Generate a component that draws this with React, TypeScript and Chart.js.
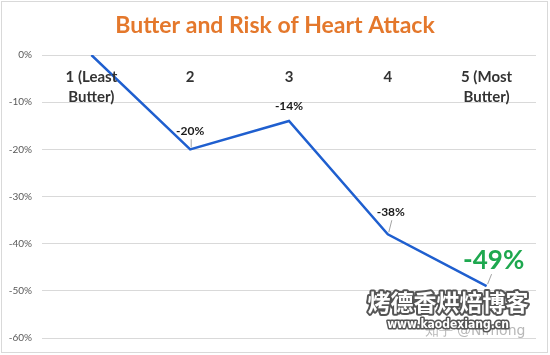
import React, { useEffect, useRef } from "react";
import { Chart, registerables } from "chart.js";

Chart.register(...registerables);

const categories: (string | string[])[] = [
  ["1 (Least", "Butter)"],
  "2",
  "3",
  "4",
  ["5 (Most", "Butter)"],
];
const riskChange: number[] = [0, -0.2, -0.14, -0.38, -0.49];
const labelShown: boolean[] = [false, true, true, true, true];
const titleText = "Butter and Risk of Heart Attack";
const watermarkMain = "烤德香烘焙博客";
const watermarkUrl = "www.kaodexiang.cn";
const watermarkZhihu = "知乎 @Nimong";

// label placement styling (offsets from the point, in px)
const labelStyle = [
  null,
  { dx: 0, dy: -18, leader: true, big: false },
  { dx: 0, dy: -15, leader: false, big: false },
  { dx: 3, dy: -22, leader: true, big: false },
  { dx: 7, dy: -26, leader: true, big: true },
];

const pct = (v: number) => `${Math.round(v * 100)}%`;

export default function App() {
  const ref = useRef<HTMLCanvasElement>(null);
  useEffect(() => {
    document.body.style.margin = "0";
    const canvas = ref.current!;
    const framePlugin = {
      id: "frame",
      beforeDraw(chart: any) {
        const { ctx, width, height } = chart;
        ctx.save();
        ctx.fillStyle = "#ffffff";
        ctx.fillRect(0, 0, width, height);
        ctx.strokeStyle = "#d9d9d9";
        ctx.lineWidth = 1;
        ctx.strokeRect(1.5, 1.5, width - 4, height - 4);
        ctx.fillStyle = "#E4782C";
        ctx.font = "bold 23px Lato";
        ctx.textAlign = "center";
        ctx.textBaseline = "middle";
        ctx.fillText(titleText, width / 2, 26);
        ctx.restore();
      },
    };
    const catPlugin = {
      id: "cats",
      afterDatasetsDraw(chart: any) {
        const { ctx, chartArea } = chart;
        const xs = chart.scales.x;
        ctx.save();
        ctx.fillStyle = "#333333";
        ctx.font = "bold 15px Lato";
        ctx.textAlign = "center";
        ctx.textBaseline = "middle";
        categories.forEach((c, i) => {
          const x = xs.getPixelForValue(i);
          const lines = Array.isArray(c) ? c : [c];
          lines.forEach((l, j) => ctx.fillText(l, x, chartArea.top + 22 + j * 20));
        });
        ctx.restore();
      },
    };
    const labelPlugin = {
      id: "vlabels",
      afterDatasetsDraw(chart: any) {
        const { ctx } = chart;
        const meta = chart.getDatasetMeta(0);
        ctx.save();
        ctx.textAlign = "center";
        ctx.textBaseline = "middle";
        riskChange.forEach((v, i) => {
          const st = labelStyle[i];
          if (!labelShown[i] || !st) return;
          const p = meta.data[i];
          const lx = p.x + st.dx;
          const ly = p.y + st.dy;
          if (st.leader) {
            ctx.strokeStyle = "#8c8c8c";
            ctx.lineWidth = 0.8;
            ctx.beginPath();
            ctx.moveTo(p.x + 1, p.y - 2);
            ctx.lineTo(lx + (st.big ? -2 : 1), ly + (st.big ? 14 : 8));
            ctx.stroke();
          }
          if (st.big) {
            ctx.fillStyle = "#1EA84F";
            ctx.font = "bold 26px Lato";
          } else {
            ctx.fillStyle = "#1a1a1a";
            ctx.font = "bold 12px Lato";
          }
          ctx.fillText(pct(v), lx, ly);
        });
        ctx.restore();
      },
    };
    const wmPlugin = {
      id: "wm",
      afterDraw(chart: any) {
        const { ctx } = chart;
        ctx.save();
        ctx.textAlign = "center";
        ctx.textBaseline = "middle";
        ctx.fillStyle = "#b8b8b8";
        ctx.font = "14px 'DejaVu Sans'";
        ctx.fillText(watermarkZhihu, 475, 331);
        ctx.lineJoin = "round";
        ctx.font = "bold 23px 'Noto Sans CJK SC'";
        ctx.strokeStyle = "#555555";
        ctx.lineWidth = 4;
        ctx.strokeText(watermarkMain, 448, 302);
        ctx.fillStyle = "#ffffff";
        ctx.fillText(watermarkMain, 448, 302);
        ctx.font = "bold 12px 'DejaVu Sans Condensed'";
        ctx.lineWidth = 3;
        ctx.strokeText(watermarkUrl, 448, 325);
        ctx.fillText(watermarkUrl, 448, 325);
        ctx.restore();
      },
    };
    const chart = new Chart(canvas, {
      type: "line",
      data: {
        labels: categories as any,
        datasets: [
          {
            data: riskChange,
            borderColor: "#1F5FCF",
            borderWidth: 2.5,
            pointRadius: 0,
            tension: 0,
            fill: false,
          },
        ],
      },
      options: {
        responsive: false,
        animation: false,
        layout: { padding: { left: 0, right: 14, top: 55, bottom: 17 } },
        plugins: { legend: { display: false }, tooltip: { enabled: false }, title: { display: false } },
        scales: {
          x: { display: false, offset: true },
          y: {
            min: -0.6,
            max: 0,
            afterFit: (s: any) => {
              s.width = 42;
            },
            ticks: {
              stepSize: 0.1,
              callback: (v: any) => pct(Number(v)),
              font: { size: 10, family: "Lato" },
              color: "#595959",
              padding: 10,
            },
            grid: { color: "#d9d9d9", drawTicks: false },
            border: { display: false },
          },
        },
      },
      plugins: [framePlugin, catPlugin, labelPlugin, wmPlugin],
    });
    return () => chart.destroy();
  }, []);
  return (
    <div style={{ position: "absolute", left: 0, top: 0, width: 550, height: 355 }}>
      <canvas ref={ref} width={550} height={355} style={{ width: 550, height: 355 }} />
    </div>
  );
}
